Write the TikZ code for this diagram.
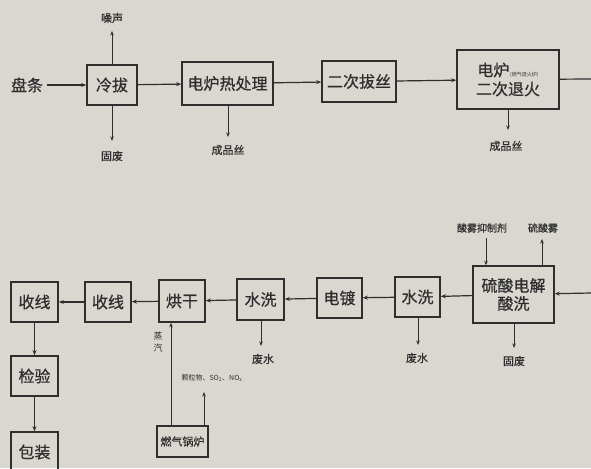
\documentclass[tikz,border=0pt]{standalone}
\usepackage{fontspec}
\setmainfont{Noto Sans CJK SC}
\newfontfamily\boxfont{Noto Sans CJK SC}[FakeBold=0.6]
\usetikzlibrary{arrows.meta}
\definecolor{bg}{HTML}{DAD7D0}
\definecolor{ink}{HTML}{2E2E2E}
\begin{document}
\begin{tikzpicture}[x=1pt,y=-1pt,
  proc/.style={draw=ink,line width=1.6pt,text=ink,font=\boxfont\fontsize{16}{18}\selectfont,inner sep=0pt,align=center},
  lbl/.style={text=ink,font=\boxfont\fontsize{10}{11}\selectfont,inner sep=0pt},
  flow/.style={draw=ink,line width=1.2pt,-{Stealth[length=5pt,width=4pt]}},
  side/.style={draw=ink,line width=1pt,-{Stealth[length=4.5pt,width=3.5pt]}}]
\fill[bg] (0,0) rectangle (591,468);
\useasboundingbox (0,0) rectangle (591,468);
% row 1
\node[text=ink,font=\boxfont\fontsize{16}{18}\selectfont] (pt) at (27,85) {盘条};
\node[proc,minimum width=50pt,minimum height=40pt] (lb) at (112,85) {冷拔};
\node[proc,minimum width=91pt,minimum height=43pt] (dlr) at (227.5,83.5) {电炉热处理};
\node[proc,minimum width=102pt,minimum height=59pt] (ecth) at (508,79.5) {电炉{\rmfamily\fontsize{5}{6}\selectfont\,(燃气退火炉)}\\[1pt]二次退火};
\node[proc,minimum width=74pt,minimum height=41pt] (ecbs) at (359,81.5) {二次拔丝};
\coordinate (out1) at (591,79);
\draw[flow] (pt) -- (lb);
\draw[flow] (lb) -- (dlr);
\draw[flow] (dlr) -- (ecbs);
\draw[flow] (ecbs) -- (ecth);
\draw[draw=ink,line width=1.2pt] (ecth) -- (out1);
% row 1 side labels
\node[lbl,font=\boxfont\fontsize{11}{12}\selectfont] (zs) at (112,18) {噪声};
\coordinate (zsa) at (112,31);
\draw[side] (lb.north) -- (zsa);
\node[lbl,font=\boxfont\fontsize{11}{12}\selectfont] (gf1) at (112,156) {固废};
\coordinate (gf1a) at (112,141);
\draw[side] (lb.south) -- (gf1a);
\node[lbl,font=\boxfont\fontsize{11}{12}\selectfont] (cps1) at (228,150) {成品丝};
\coordinate (cps1a) at (228,137);
\draw[side] (dlr.south -| cps1a) -- (cps1a);
\node[lbl,font=\boxfont\fontsize{11}{12}\selectfont] (cps2) at (506,146) {成品丝};
\coordinate (cps2a) at (508,130);
\draw[side] (ecth.south -| cps2a) -- (cps2a);
% row 2
\coordinate (in2) at (591,293);
\node[proc,minimum width=81pt,minimum height=57pt] (sj) at (513.5,294.5) {硫酸电解\\酸洗};
\node[proc,minimum width=45pt,minimum height=40pt] (sx1) at (417.5,297) {水洗};
\node[proc,minimum width=45pt,minimum height=40pt] (dd) at (339.5,298) {电镀};
\node[proc,minimum width=47pt,minimum height=41pt] (sx2) at (260.5,299.5) {水洗};
\node[proc,minimum width=46pt,minimum height=42pt] (hg) at (182,301) {烘干};
\node[proc,minimum width=46pt,minimum height=40pt] (shx2) at (108,302) {收线};
\node[proc,minimum width=47pt,minimum height=40pt] (shx1) at (34.5,302) {收线};
\node[proc,minimum width=47pt,minimum height=40pt] (jy) at (34.5,376) {检验};
\node[proc,minimum width=47pt,minimum height=40pt] (bz) at (34.5,452) {包装};
\node[proc,minimum width=51pt,minimum height=31pt,font=\boxfont\fontsize{11}{12}\selectfont] (gl) at (182.5,441.5) {燃气锅炉};
\draw[flow] (in2) -- (sj);
\draw[flow] (sj) -- (sx1);
\draw[flow] (sx1) -- (dd);
\draw[flow] (dd) -- (sx2);
\draw[flow] (sx2) -- (hg);
\draw[flow] (hg) -- (shx2);
\draw[flow] (shx2) -- (shx1);
\draw[flow] (shx1) -- (jy);
\draw[flow] (jy) -- (bz);
% row 2 side labels
\node[lbl] (swy) at (482,228) {酸雾抑制剂};
\coordinate (swya) at (486,238);
\draw[side] (swya) -- (sj.north -| swya);
\node[lbl] (lsw) at (543,228) {硫酸雾};
\coordinate (lswa) at (542,239);
\draw[side] (sj.north -| lswa) -- (lswa);
\node[lbl,font=\boxfont\fontsize{11}{12}\selectfont] (gf2) at (514,361) {固废};
\coordinate (gf2a) at (514,348);
\draw[side] (sj.south -| gf2a) -- (gf2a);
\node[lbl,font=\boxfont\fontsize{11}{12}\selectfont] (fs1) at (417,358) {废水};
\coordinate (fs1a) at (418,345);
\draw[side] (sx1.south -| fs1a) -- (fs1a);
\node[lbl,font=\boxfont\fontsize{11}{12}\selectfont] (fs2) at (263,359) {废水};
\coordinate (fs2a) at (261,346);
\draw[side] (sx2.south -| fs2a) -- (fs2a);
% boiler
\coordinate (zqa) at (171,340);
\draw[side] (gl.north -| zqa) -- (hg.south -| zqa);
\node[lbl,align=center,font=\fontsize{9}{12}\selectfont] (zq) at (158,342) {蒸\\汽};
\coordinate (kla) at (204,392);
\draw[side] (gl.north -| kla) -- (kla);
\node[lbl,font=\fontsize{7}{8}\selectfont] (kl) at (212,378) {颗粒物、SO\textsubscript{2}、NO\textsubscript{x}};
\end{tikzpicture}
\end{document}
